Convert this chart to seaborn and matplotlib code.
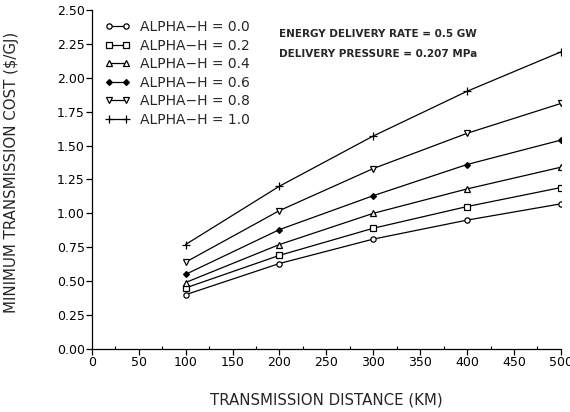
import matplotlib
matplotlib.use("Agg")
import matplotlib.pyplot as plt
from matplotlib.ticker import MultipleLocator, FormatStrFormatter
import seaborn as sns
import pandas as pd

distance_km = [100, 200, 300, 400, 500]
alpha_labels = ["ALPHA\u2212H = 0.0", "ALPHA\u2212H = 0.2", "ALPHA\u2212H = 0.4",
                "ALPHA\u2212H = 0.6", "ALPHA\u2212H = 0.8", "ALPHA\u2212H = 1.0"]
cost_a00 = [0.40, 0.63, 0.81, 0.95, 1.07]
cost_a02 = [0.45, 0.69, 0.89, 1.05, 1.19]
cost_a04 = [0.49, 0.77, 1.00, 1.18, 1.34]
cost_a06 = [0.55, 0.88, 1.13, 1.36, 1.54]
cost_a08 = [0.64, 1.02, 1.33, 1.59, 1.81]
cost_a10 = [0.77, 1.20, 1.57, 1.90, 2.19]
all_costs = [cost_a00, cost_a02, cost_a04, cost_a06, cost_a08, cost_a10]

sns.set_theme(style="ticks")
plt.rcParams["font.family"] = ["DejaVu Sans"]

fig = plt.figure(figsize=(5.7, 4.12), dpi=100)
ax = fig.add_axes([0.161, 0.153, 0.823, 0.823])

marker_styles = ["o", "s", "^", "D", "v", "+"]
marker_sizes = [3.8, 3.8, 3.8, 3.0, 3.8, 6]
face_colors = ["white", "white", "white", "black", "white", "black"]

for label, costs, mk, ms, fc in zip(alpha_labels, all_costs, marker_styles,
                                    marker_sizes, face_colors):
    series = pd.DataFrame({"distance": distance_km, "cost": costs})
    sns.lineplot(data=series, x="distance", y="cost", ax=ax, color="black",
                 linewidth=0.9, marker=mk, markersize=ms, markerfacecolor=fc,
                 markeredgecolor="black", markeredgewidth=0.9, label=label)

ax.set_xlim(0, 500)
ax.set_ylim(0, 2.5)
ax.xaxis.set_major_locator(MultipleLocator(50))
ax.xaxis.set_minor_locator(MultipleLocator(25))
ax.yaxis.set_major_locator(MultipleLocator(0.25))
ax.yaxis.set_major_formatter(FormatStrFormatter("%.2f"))
ax.tick_params(axis="both", which="major", direction="out", length=4, width=0.9,
               labelsize=9, color="black", labelcolor="black", pad=1)
ax.tick_params(axis="x", which="minor", direction="in", length=2.5, width=0.8,
               color="black")
for side in ["top", "right"]:
    ax.spines[side].set_visible(False)
for side in ["left", "bottom"]:
    ax.spines[side].set_color("black")
    ax.spines[side].set_linewidth(0.9)

ax.set_xlabel("TRANSMISSION DISTANCE (KM)", fontsize=10.8, labelpad=17)
ax.set_ylabel("MINIMUM TRANSMISSION COST ($/GJ)", fontsize=10.8)
ax.yaxis.set_label_coords(-0.155, 0.52)

ax.legend(loc="upper left", bbox_to_anchor=(0.01, 0.995), frameon=False,
          fontsize=10, numpoints=2, handlelength=1.8, handletextpad=0.7,
          labelspacing=0.33, borderaxespad=0.2)

ax.text(0.40, 0.929, "ENERGY DELIVERY RATE = 0.5 GW", transform=ax.transAxes,
        fontsize=7.5, fontweight="bold", ha="left", va="center")
ax.text(0.40, 0.869, "DELIVERY PRESSURE = 0.207 MPa", transform=ax.transAxes,
        fontsize=7.5, fontweight="bold", ha="left", va="center")

fig.savefig("out.png", dpi=100)
